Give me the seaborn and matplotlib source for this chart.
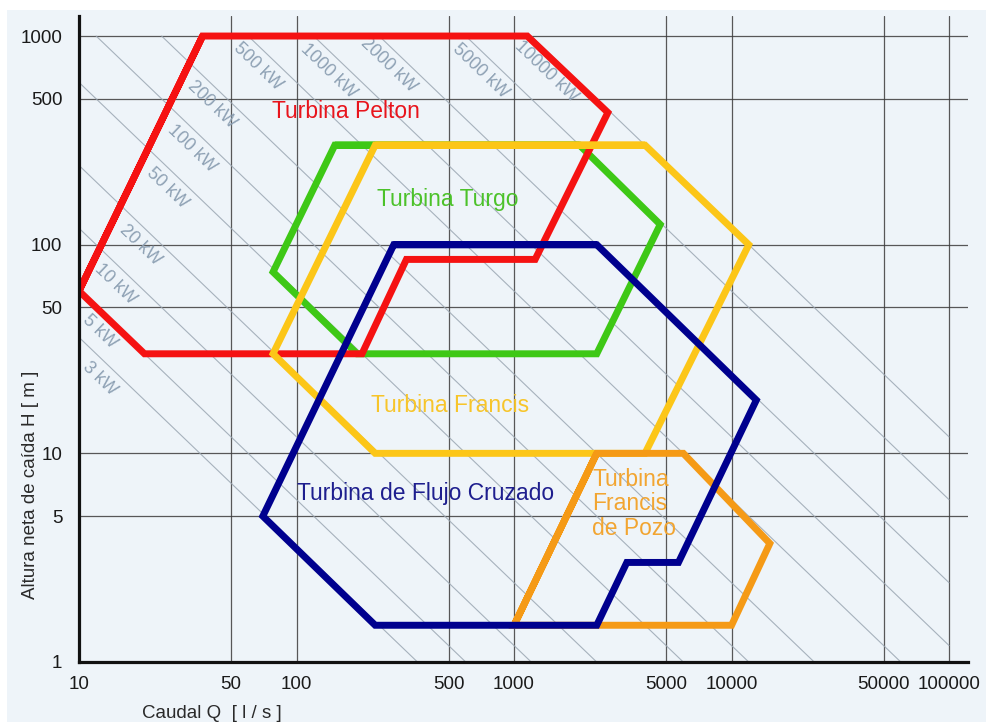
import numpy as np
import pandas as pd
import matplotlib
matplotlib.use("Agg")
import matplotlib.pyplot as plt
from matplotlib.patches import Rectangle
from matplotlib.ticker import FixedLocator, FixedFormatter, NullLocator
import seaborn as sns

# Operating envelopes of each turbine type: flow Q [l/s] and net head H [m]
pelton_q = [10, 37, 1150, 2700, 1250, 320, 200, 20]
pelton_h = [60, 1000, 1000, 430, 85, 85, 30, 30]

turgo_q = [150, 2000, 4700, 2400, 190, 78]
turgo_h = [300, 300, 125, 30, 30, 74]

francis_q = [230, 4000, 12000, 4000, 230, 78]
francis_h = [300, 300, 100, 10, 10, 30]

pozo_q = [1000, 2400, 6000, 15000, 10000]
pozo_h = [1.5, 10, 10, 3.7, 1.5]

crossflow_q = [280, 2400, 13000, 5700, 3300, 2400, 230, 70]
crossflow_h = [100, 100, 18, 3, 3, 1.5, 1.5, 5]

# Iso-power lines [kW]
power_kw = [3, 5, 10, 20, 50, 100, 200, 500, 1000, 2000, 5000, 10000]
power_text = ["3 kW", "5 kW", "10 kW", "20 kW", "50 kW", "100 kW", "200 kW",
              "500 kW", "1000 kW", "2000 kW", "5000 kW", "10000 kW"]

x_ticks = [10, 50, 100, 500, 1000, 5000, 10000, 50000, 100000]
x_tick_text = ["10", "50", "100", "500", "1000", "5000", "10000", "50000", "100000"]
y_ticks = [1, 5, 10, 50, 100, 500, 1000]
y_tick_text = ["1", "5", "10", "50", "100", "500", "1000"]

# layout: flow at which each power label sits along its line
label_q = [12.5, 12.5, 14.7, 19.1, 25.4, 33.1, 40.8, 66.5, 140, 264, 698, 1403]

sns.set_theme(style="white")
plt.rcParams["font.family"] = ["Liberation Sans", "DejaVu Sans"]

BG = "#eef4f9"
fig = plt.figure(figsize=(9.87, 7.22), dpi=100, facecolor="white")
fig.patches.append(Rectangle((7 / 987, 0), 1, 1 - 10 / 722, transform=fig.transFigure,
                             facecolor=BG, edgecolor="none", zorder=-10))
ax = fig.add_axes([79 / 987, 1 - 662 / 722, 889 / 987, 646 / 722])
ax.set_facecolor("none")
ax.set_xscale("log")
ax.set_yscale("log")
ax.set_xlim(10, 10 ** 5.087)
ax.set_ylim(1, 10 ** 3.096)

# power lines: P = rho*g*Q*H*eta  ->  Q*H = const
eta = 0.85
for p in power_kw:
    k = p * 1000.0 / (9.81 * eta)
    q0 = max(10.0, k / 1000.0)
    q1 = min(1e5, k)
    q = np.geomspace(q0, q1, 2)
    sns.lineplot(x=q, y=k / q, ax=ax, color="#9aa6b2", linewidth=0.8,
                 estimator=None, sort=False, zorder=1, alpha=0.85)

ang = -np.degrees(np.arctan((208.7) / (217.5)))
for p, t, q in zip(power_kw, power_text, label_q):
    k = p * 1000.0 / (9.81 * eta)
    ax.text(q, k / q * 10 ** -0.10, t, rotation=ang, rotation_mode="anchor",
            ha="center", va="center", fontsize=12.8, color="#8ea1b4", zorder=2)

# turbine envelopes
envelopes = [
    (turgo_q, turgo_h, "#3ec816"),
    (pelton_q, pelton_h, "#f51212"),
    (francis_q, francis_h, "#fcc618"),
    (pozo_q, pozo_h, "#f59a16"),
    (crossflow_q, crossflow_h, "#00008e"),
]
for i, (q, h, c) in enumerate(envelopes):
    qq = list(q) + [q[0], q[1]]
    hh = list(h) + [h[0], h[1]]
    sns.lineplot(x=qq, y=hh, ax=ax, color=c, linewidth=5.0, estimator=None,
                 sort=False, zorder=4 + i, solid_joinstyle="miter",
                 solid_capstyle="butt")

# turbine names
name_size = 16.5
ax.text(169, 433, "Turbina Pelton", color="#e8141c", fontsize=name_size,
        ha="center", va="center", zorder=10)
ax.text(494, 164, "Turbina Turgo", color="#4cc22a", fontsize=name_size,
        ha="center", va="center", zorder=10)
ax.text(508, 16.9, "Turbina Francis", color="#f7c52a", fontsize=name_size,
        ha="center", va="center", zorder=10)
ax.text(392, 6.39, "Turbina de Flujo Cruzado", color="#1e1e8e", fontsize=name_size,
        ha="center", va="center", zorder=10)
ax.text(2286, 5.72, "Turbina\nFrancis\nde Pozo", color="#f2a531", fontsize=name_size,
        ha="left", va="center", multialignment="left", linespacing=1.08, zorder=10)

# axes styling
ax.xaxis.set_major_locator(FixedLocator(x_ticks))
ax.xaxis.set_major_formatter(FixedFormatter(x_tick_text))
ax.yaxis.set_major_locator(FixedLocator(y_ticks))
ax.yaxis.set_major_formatter(FixedFormatter(y_tick_text))
ax.xaxis.set_minor_locator(NullLocator())
ax.yaxis.set_minor_locator(NullLocator())
ax.tick_params(axis="both", length=0, labelsize=13.5, labelcolor="#1a1a1a")
ax.tick_params(axis="x", pad=10)
ax.tick_params(axis="y", pad=12)
ax.grid(True, which="major", color="#3c3c3c", linewidth=0.9, alpha=0.85, zorder=0)
for s in ["top", "right"]:
    ax.spines[s].set_visible(False)
for s in ["left", "bottom"]:
    ax.spines[s].set_color("#111111")
    ax.spines[s].set_linewidth(2.3)
    ax.spines[s].set_zorder(12)
ax.set_xlabel("")
ax.set_ylabel("")

fig.text(142 / 987, 1 - 713 / 722, "Caudal Q  [ l / s ]", fontsize=13.5,
         color="#2a2a2a", ha="left", va="center")
fig.text(31 / 987, 1 - 485 / 722, "Altura neta de caída H [ m ]", fontsize=13.5,
         color="#2a2a2a", ha="center", va="center", rotation=90)

fig.savefig("out.png", dpi=100, facecolor=fig.get_facecolor())
